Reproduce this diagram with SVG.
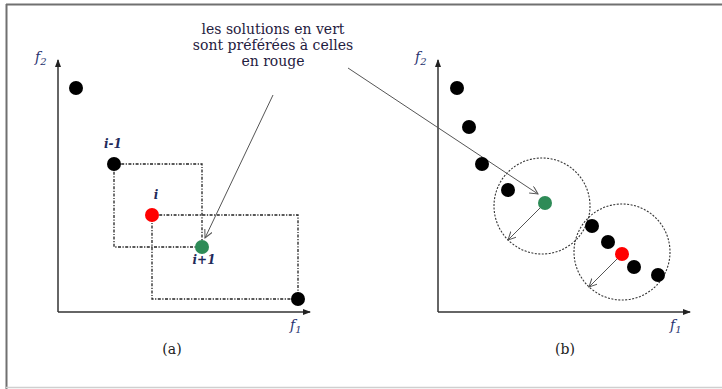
<svg xmlns="http://www.w3.org/2000/svg" width="722" height="389" viewBox="0 0 722 389">
<style>
.frame{stroke:#707070;stroke-width:2;fill:none}
.axis{stroke:#333;stroke-width:1.5;fill:none}
.dash{stroke:#222;stroke-width:1.3;fill:none;stroke-dasharray:3 1.5 1.2 1.5}
.circ{stroke:#333;stroke-width:1.1;fill:none;stroke-dasharray:2 1.5}
.conn{stroke:#555;stroke-width:1;fill:none}
.blk{fill:#000}
.red{fill:#ff0000}
.grn{fill:#2e8b57}
.note{font-family:"DejaVu Serif","Liberation Serif",serif;font-size:14px;fill:#1f2040;text-anchor:middle}
.ax{font-family:"DejaVu Serif","Liberation Serif",serif;font-style:italic;font-size:14px;fill:#2a3470}
.lab{font-family:"DejaVu Serif","Liberation Serif",serif;font-style:italic;font-weight:bold;font-size:12px;fill:#1f2a5a;text-anchor:middle}
.cap{font-family:"DejaVu Serif","Liberation Serif",serif;font-size:14px;fill:#222;text-anchor:middle}
</style>
<defs>
<marker id="ah" markerWidth="10" markerHeight="10" refX="8" refY="4" orient="auto" markerUnits="userSpaceOnUse">
<path d="M0,0 L8,4 L0,8" fill="none" stroke="#555" stroke-width="1"/>
</marker>
<marker id="ax" markerWidth="10" markerHeight="8" refX="7" refY="3" orient="auto" markerUnits="userSpaceOnUse">
<path d="M0,0 L8,3 L0,6 Z" fill="#222"/>
</marker>
</defs>
<rect width="722" height="389" fill="#fff"/>
<g id="frame">
<line class="frame" x1="6" y1="4.5" x2="722" y2="4.5"/>
<line class="frame" x1="6.5" y1="4" x2="6.5" y2="389"/>
<line x1="6" y1="387.5" x2="722" y2="387.5" stroke="#cfcfcf" stroke-width="1.5"/>
</g>
<g id="axes-a">
<line class="axis" x1="58" y1="312" x2="58" y2="60" marker-end="url(#ax)"/>
<line class="axis" x1="58" y1="312" x2="310" y2="312" marker-end="url(#ax)"/>
<text class="ax" x="35" y="62">f<tspan font-size="10" dy="3">2</tspan></text>
<text class="ax" x="290" y="330">f<tspan font-size="10" dy="3">1</tspan></text>
<text class="cap" x="172" y="354">(a)</text>
</g>
<g id="axes-b">
<line class="axis" x1="438" y1="312" x2="438" y2="60" marker-end="url(#ax)"/>
<line class="axis" x1="438" y1="312" x2="690" y2="312" marker-end="url(#ax)"/>
<text class="ax" x="415" y="62">f<tspan font-size="10" dy="3">2</tspan></text>
<text class="ax" x="670" y="330">f<tspan font-size="10" dy="3">1</tspan></text>
<text class="cap" x="565" y="354">(b)</text>
</g>
<g id="note">
<text class="note" x="273" y="34">les solutions en vert</text>
<text class="note" x="273" y="50">sont préférées à celles</text>
<text class="note" x="273" y="66">en rouge</text>
</g>
<g id="boxes-a">
<rect class="dash" x="114" y="164" width="88" height="83"/>
<rect class="dash" x="152" y="215" width="146" height="84"/>
</g>
<g id="circles-b">
<circle class="circ" cx="542" cy="206" r="48"/>
<circle class="circ" cx="622" cy="252" r="48"/>
</g>
<g id="connectors">
<line class="conn" x1="273" y1="95" x2="205" y2="238" marker-end="url(#ah)"/>
<line class="conn" x1="348" y1="68" x2="538" y2="194" marker-end="url(#ah)"/>
<line class="conn" x1="545" y1="203" x2="508" y2="240" marker-end="url(#ah)"/>
<line class="conn" x1="622" y1="254" x2="589" y2="287" marker-end="url(#ah)"/>
</g>
<g id="node-a0"><circle class="blk" cx="76" cy="88" r="7"/></g>
<g id="node-a-im1"><circle class="blk" cx="114" cy="164" r="7"/><text class="lab" x="113" y="148">i-1</text></g>
<g id="node-a-i"><circle class="red" cx="152" cy="215" r="7"/><text class="lab" x="156" y="199">i</text></g>
<g id="node-a-ip1"><circle class="grn" cx="202" cy="247" r="7"/><text class="lab" x="204" y="264">i+1</text></g>
<g id="node-a4"><circle class="blk" cx="298" cy="299" r="7"/></g>
<g id="node-b1"><circle class="blk" cx="457" cy="88" r="7"/></g>
<g id="node-b2"><circle class="blk" cx="469" cy="127" r="7"/></g>
<g id="node-b3"><circle class="blk" cx="482" cy="164" r="7"/></g>
<g id="node-b4"><circle class="blk" cx="508" cy="190" r="7"/></g>
<g id="node-b5"><circle class="grn" cx="545" cy="203" r="7"/></g>
<g id="node-b6"><circle class="blk" cx="592" cy="226" r="7"/></g>
<g id="node-b7"><circle class="blk" cx="608" cy="242" r="7"/></g>
<g id="node-b8"><circle class="red" cx="622" cy="254" r="7"/></g>
<g id="node-b9"><circle class="blk" cx="634" cy="267" r="7"/></g>
<g id="node-b10"><circle class="blk" cx="658" cy="275" r="7"/></g>
</svg>
